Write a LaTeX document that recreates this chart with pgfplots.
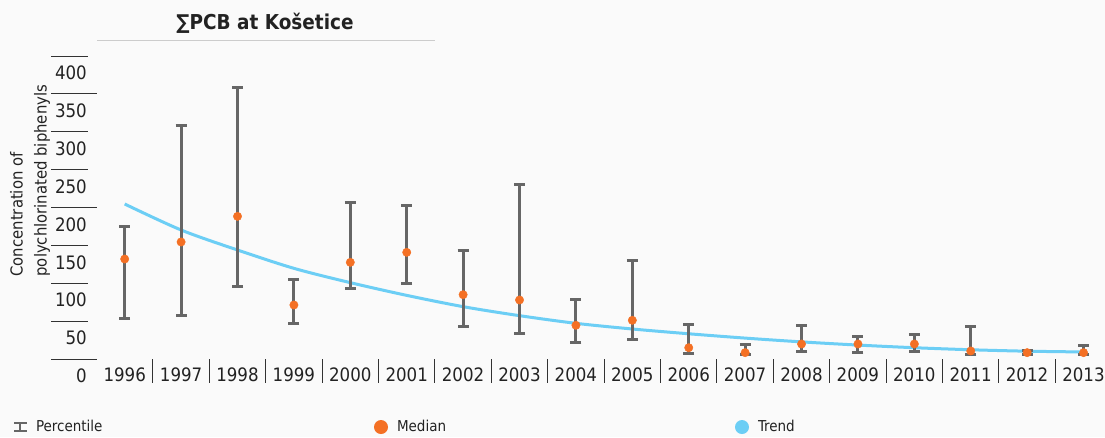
\documentclass[border=0pt]{standalone}
\usepackage{fontspec}
\setmainfont{DejaVu Sans Condensed}
\usepackage{pgfplots}
\pgfplotsset{compat=1.18}
\usepackage{pgfplotstable}

\definecolor{bg}{RGB}{250,250,250}
\definecolor{barg}{RGB}{102,102,102}
\definecolor{medo}{RGB}{244,112,36}
\definecolor{trendb}{RGB}{108,206,245}
\definecolor{tickc}{RGB}{50,50,50}
\definecolor{txt}{RGB}{34,34,34}

\pgfplotstableread{
year lo med hi
1996 53.7 132.0 174.3
1997 56.8 154.5 308.9
1998 95.9 188.3 358.6
1999 46.7 71.3 105.2
2000 92.8 127.6 206.4
2001 100.3 140.8 202.4
2002 43.3 84.9 142.8
2003 33.9 77.9 231.0
2004 21.6 44.5 78.8
2005 25.1 51.1 130.3
2006 7.5 14.9 44.9
2007 5.3 8.4 18.5
2008 9.7 19.8 43.6
2009 8.8 19.8 29.5
2010 9.7 19.8 33.0
2011 5.3 10.6 42.7
2012 5.3 8.4 11.0
2013 5.3 8.4 17.2
}\pcb

\pgfplotstableread{
year t
1996 204.6
1997 170.3
1998 143.9
1999 119.7
2000 100.8
2001 84.0
2002 69.1
2003 57.2
2004 47.1
2005 39.6
2006 33.3
2007 27.6
2008 22.6
2009 18.4
2010 14.9
2011 12.2
2012 10.3
2013 9.3
}\trend

\begin{document}
\begin{tikzpicture}[x=1pt,y=1pt]
\fill[bg] (0,0) rectangle (1105,437);
\useasboundingbox (0,0) rectangle (1105,437);
\node[font=\fontsize{20.5}{22}\selectfont\bfseries, text=txt] at (265,414) {∑PCB at Košetice};
\draw[black!20, line width=1pt] (97,396) -- (435,396);
\node[rotate=90, anchor=west, align=left, font=\fontsize{16.5}{24}\selectfont, text=txt] at (30,157) {Concentration of\\polychlorinated biphenyls};
\begin{axis}[
  at={(96.5pt,78pt)}, anchor=south west,
  scale only axis, width=1008.5pt, height=303pt,
  xmin=1995.5, xmax=2013.38, ymin=0, ymax=400,
  clip=false,
  axis line style={draw=none},
  major tick length=0pt,
  tick style={draw=none},
  xtick={1996,1997,...,2013},
  ytick={0,50,...,400},
  xticklabel style={font=\fontsize{18.5}{20}\selectfont, text=txt, anchor=north, inner sep=0pt, yshift=-9pt},
  yticklabel style={font=\fontsize{18.5}{20}\selectfont, text=txt, anchor=east, inner sep=0pt, xshift=-9.5pt, yshift=-17pt},
  /pgf/number format/1000 sep={},
  /pgf/number format/assume math mode=true,
  legend columns=3,
  legend cell align=left,
  legend style={at={(axis description cs:-0.0828,-0.2245)}, anchor=west, draw=none, fill=none, inner sep=0pt, outer sep=0pt, column sep=0pt, nodes={inner sep=0pt, font=\fontsize{15}{16}\selectfont, text=txt}},
]
\pgfplotsinvokeforeach{0,50,...,400}{
  \draw[tickc, line width=1pt] ([xshift=-45.5pt]axis cs:1995.5,#1) -- ([xshift=-8.5pt]axis cs:1995.5,#1);
}
\pgfplotsinvokeforeach{0,200,350}{
  \draw[tickc, line width=1pt] ([xshift=-8.5pt]axis cs:1995.5,#1) -- ([xshift=0pt]axis cs:1995.5,#1);
}
\pgfplotsinvokeforeach{1996,...,2012}{
  \draw[tickc, line width=1pt] (axis cs:#1.5,0) -- ([yshift=-24pt]axis cs:#1.5,0);
}
\addplot[trendb, line width=3pt, smooth, forget plot] table[x=year,y=t]{\trend};
\addplot[draw=none, mark=none, forget plot,
  error bars/.cd, y dir=both, y explicit,
  error bar style={draw=barg, line width=3pt},
  error mark options={draw=barg, line width=3pt, rotate=90, mark size=5.5pt}]
  table[x=year, y=med, y error plus expr=\thisrow{hi}-\thisrow{med}, y error minus expr=\thisrow{med}-\thisrow{lo}]{\pcb};
\addplot[only marks, mark=*, mark size=4.2pt, color=medo, mark options={fill=medo, draw=medo}, forget plot] table[x=year,y=med]{\pcb};

\addlegendimage{legend image code/.code={\path[draw=none,fill=none] (-7pt,-7pt) rectangle (16pt,7pt); \fill[barg, draw=none] (-1pt,-4pt) rectangle (1pt,4pt); \fill[barg, draw=none] (-6.5pt,-5pt) rectangle (6.5pt,-3pt); \fill[barg, draw=none] (-6.5pt,3pt) rectangle (6.5pt,5pt);}}
\addlegendentry{\makebox[338pt][l]{Percentile}}
\addlegendimage{legend image code/.code={\path[draw=none,fill=none] (-7pt,-7pt) rectangle (16pt,7pt); \fill[medo, draw=none] (0,0) circle (7pt);}}
\addlegendentry{\makebox[338pt][l]{Median}}
\addlegendimage{legend image code/.code={\path[draw=none,fill=none] (-7pt,-7pt) rectangle (16pt,7pt); \fill[trendb, draw=none] (0,0) circle (7pt);}}
\addlegendentry{Trend}
\end{axis}
\end{tikzpicture}
\end{document}
